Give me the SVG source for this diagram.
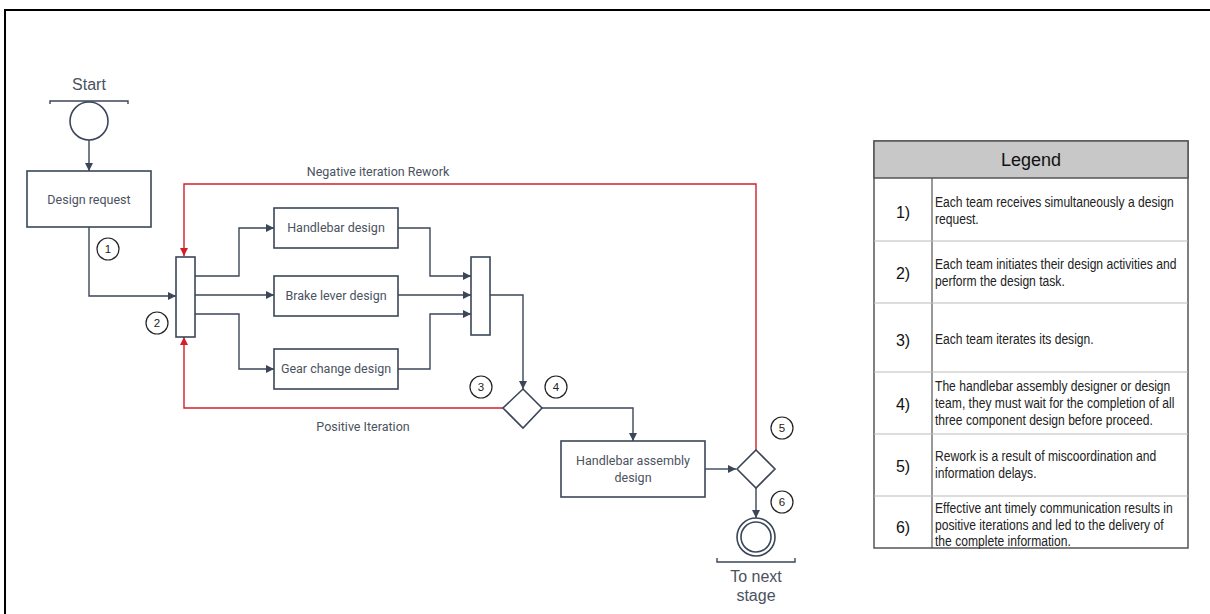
<svg xmlns="http://www.w3.org/2000/svg" width="1210" height="614" viewBox="0 0 1210 614">
  <defs>
    <marker id="arr" viewBox="0 0 10 10" refX="10" refY="5" markerWidth="8" markerHeight="8" markerUnits="userSpaceOnUse" orient="auto">
      <path d="M0,0 L10,5 L0,10 z" fill="#3b4658"/>
    </marker>
    <marker id="arrRed" viewBox="0 0 10 10" refX="10" refY="5" markerWidth="8" markerHeight="8" markerUnits="userSpaceOnUse" orient="auto">
      <path d="M0,0 L10,5 L0,10 z" fill="#d0202a"/>
    </marker>
  </defs>
  <style>
    .shape { fill: #ffffff; stroke: #3b4658; stroke-width: 1.6; }
    .flow { fill: none; stroke: #3b4658; stroke-width: 1.4; marker-end: url(#arr); }
    .plain { fill: none; stroke: #3b4658; stroke-width: 1.4; }
    .rework { fill: none; stroke: #d0202a; stroke-width: 1.4; }
    .lbl { font-family: Roboto, "Liberation Sans", sans-serif; font-size: 12.5px; fill: #4a5260; text-anchor: middle; }
    .big { font-family: "Liberation Sans", Arial, sans-serif; font-size: 16px; fill: #4a5260; text-anchor: middle; }
    .num { fill: #ffffff; stroke: #222222; stroke-width: 1.2; }
    .numt { font-family: "Liberation Sans", Arial, sans-serif; font-size: 11.5px; fill: #222222; text-anchor: middle; }
    .row { stroke: #bbbbbb; stroke-width: 1.2; }
    .idx { font-family: "Liberation Sans", Arial, sans-serif; font-size: 16px; fill: #111111; text-anchor: middle; }
    .desc { font-family: "Liberation Sans", Arial, sans-serif; font-size: 14.5px; fill: #222222; }
  </style>

  <!-- page frame -->
  <path d="M5,614 L5,10 L1210,10" fill="none" stroke="#000000" stroke-width="2"/>

  <!-- connectors -->
  <g id="connectors">
    <path class="flow" d="M89,140 L89,171"/>
    <path class="flow" d="M89,227 L89,296 L176,296"/>
    <path class="flow" d="M195,276 L239,276 L239,228 L274,228"/>
    <path class="flow" d="M195,295 L274,295"/>
    <path class="flow" d="M195,314 L239,314 L239,369 L274,369"/>
    <path class="flow" d="M398,228 L430,228 L430,276 L471,276"/>
    <path class="flow" d="M398,295 L471,295"/>
    <path class="flow" d="M398,369 L430,369 L430,314 L471,314"/>
    <path class="flow" d="M490,295 L523,295 L523,389"/>
    <path class="flow" d="M542,408 L633,408 L633,441"/>
    <path class="flow" d="M705,469 L736,469"/>
    <path class="flow" d="M756,488 L756,518"/>
    <path class="rework" d="M756,450 L756,184 L184,184 L184,256" marker-end="url(#arrRed)"/>
    <path class="rework" d="M503,408 L184,408 L184,337" marker-end="url(#arrRed)"/>
    <text class="lbl" x="378" y="176" font-size="12px">Negative iteration Rework</text>
    <text class="lbl" x="363" y="431" font-size="12px">Positive Iteration</text>
  </g>

  <!-- start -->
  <g id="start">
    <text class="big" x="89" y="90">Start</text>
    <path class="plain" d="M50,104 L50,101 L128,101 L128,104"/>
    <circle class="shape" cx="89" cy="121" r="19"/>
  </g>

  <g id="design-request">
    <rect class="shape" x="27" y="171" width="124" height="56"/>
    <text class="lbl" x="89" y="204">Design request</text>
  </g>

  <g id="fork">
    <rect class="shape" x="176" y="257" width="19" height="80"/>
  </g>

  <g id="handlebar-design">
    <rect class="shape" x="274" y="208" width="124" height="40"/>
    <text class="lbl" x="336" y="232">Handlebar design</text>
  </g>
  <g id="brake-lever-design">
    <rect class="shape" x="274" y="276" width="124" height="40"/>
    <text class="lbl" x="336" y="300">Brake lever design</text>
  </g>
  <g id="gear-change-design">
    <rect class="shape" x="274" y="349" width="124" height="40"/>
    <text class="lbl" x="336" y="373">Gear change design</text>
  </g>

  <g id="join">
    <rect class="shape" x="471" y="257" width="19" height="78"/>
  </g>

  <g id="decision-assembly">
    <path class="shape" d="M523,389 L542,408 L523,428 L503,408 z"/>
  </g>

  <g id="handlebar-assembly">
    <rect class="shape" x="561" y="441" width="144" height="56"/>
    <text class="lbl" x="633" y="465">Handlebar assembly</text>
    <text class="lbl" x="633" y="482">design</text>
  </g>

  <g id="decision-rework">
    <path class="shape" d="M756,450 L775,469 L756,488 L737,469 z"/>
  </g>

  <g id="end">
    <circle class="shape" cx="756" cy="537" r="19"/>
    <circle class="shape" cx="756" cy="537" r="15"/>
    <path class="plain" d="M717,558 L717,562 L795,562 L795,558"/>
    <text class="big" x="756" y="582">To next</text>
    <text class="big" x="756" y="601">stage</text>
  </g>

  <!-- step markers -->
  <g id="step-markers">
    <circle class="num" cx="108" cy="249" r="11"/><text class="numt" x="108" y="253">1</text>
    <circle class="num" cx="157" cy="323" r="11"/><text class="numt" x="157" y="327">2</text>
    <circle class="num" cx="481" cy="387" r="11"/><text class="numt" x="481" y="391">3</text>
    <circle class="num" cx="556" cy="387" r="11"/><text class="numt" x="556" y="391">4</text>
    <circle class="num" cx="782" cy="428" r="11"/><text class="numt" x="782" y="432">5</text>
    <circle class="num" cx="782" cy="502" r="11"/><text class="numt" x="782" y="506">6</text>
  </g>

  <!-- legend table -->
  <g id="legend">
    <rect x="874" y="141" width="314" height="407" fill="#ffffff" stroke="#555555" stroke-width="1.5"/>
    <rect x="874" y="141" width="314" height="37" fill="#c8c8c8" stroke="#555555" stroke-width="1.5"/>
    <text x="1031" y="166" font-family="'Liberation Sans', Arial, sans-serif" font-size="18px" fill="#111111" text-anchor="middle">Legend</text>
    <line x1="932" y1="178" x2="932" y2="548" stroke="#555555" stroke-width="1.2"/>
    <line class="row" x1="874" y1="241" x2="1188" y2="241"/>
    <line class="row" x1="874" y1="303" x2="1188" y2="303"/>
    <line class="row" x1="874" y1="372" x2="1188" y2="372"/>
    <line class="row" x1="874" y1="434" x2="1188" y2="434"/>
    <line class="row" x1="874" y1="496" x2="1188" y2="496"/>

    <text class="idx" x="903" y="218">1)</text>
    <text class="idx" x="903" y="279">2)</text>
    <text class="idx" x="903" y="346">3)</text>
    <text class="idx" x="903" y="410">4)</text>
    <text class="idx" x="903" y="472">5)</text>
    <text class="idx" x="903" y="533">6)</text>

    <!-- descriptions set in a condensed run -->
    <g transform="translate(935,0) scale(0.835,1)">
      <text class="desc" x="0" y="207">Each team receives simultaneously a design</text>
      <text class="desc" x="0" y="224">request.</text>
      <text class="desc" x="0" y="269">Each team initiates their design activities and</text>
      <text class="desc" x="0" y="286">perform the design task.</text>
      <text class="desc" x="0" y="344">Each team iterates its design.</text>
      <text class="desc" x="0" y="391">The handlebar assembly designer or design</text>
      <text class="desc" x="0" y="408">team, they must wait for the completion of all</text>
      <text class="desc" x="0" y="425">three component design before proceed.</text>
      <text class="desc" x="0" y="461">Rework is a result of miscoordination and</text>
      <text class="desc" x="0" y="478">information delays.</text>
      <text class="desc" x="0" y="513">Effective ant timely communication results in</text>
      <text class="desc" x="0" y="530">positive iterations and led to the delivery of</text>
      <text class="desc" x="0" y="546">the complete information.</text>
    </g>
  </g>
</svg>
